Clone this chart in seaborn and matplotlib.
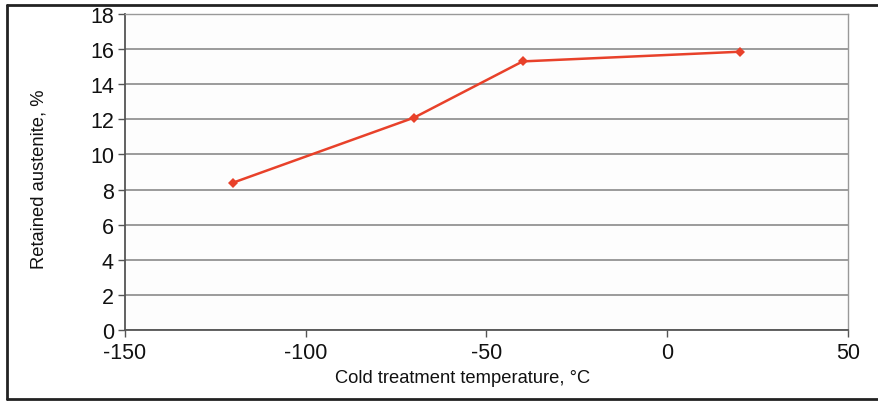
import matplotlib
matplotlib.use("Agg")
import matplotlib.pyplot as plt
from matplotlib.lines import Line2D
import seaborn as sns
import pandas as pd

temperature = [-120, -70, -40, 20]
retained_austenite = [8.4, 12.1, 15.3, 15.85]
x_ticks = [-150, -100, -50, 0, 50]
y_ticks = [0, 2, 4, 6, 8, 10, 12, 14, 16, 18]

sns.set_theme(style="white")
plt.rcParams['font.family'] = ['Liberation Sans', 'DejaVu Sans']

df = pd.DataFrame({"t": temperature, "ra": retained_austenite})

fig = plt.figure(figsize=(8.79, 4.02), dpi=100)
fig.patch.set_facecolor("white")
ax = fig.add_axes([125/879, 1-331/402, (848-125)/879, (331-15)/402])
ax.set_facecolor("#fdfdfd")

sns.lineplot(data=df, x="t", y="ra", ax=ax, color="#e8412a", linewidth=1.8,
             marker="D", markersize=5, markeredgewidth=0, zorder=3)

fs = 15.5
ax.set_xlim(-150, 50)
ax.set_ylim(0, 18)
ax.set_xticks(x_ticks)
ax.set_yticks(y_ticks)
ax.set_xticklabels([str(v) for v in x_ticks], fontsize=fs)
ax.set_yticklabels([str(v) for v in y_ticks], fontsize=fs)
ax.yaxis.grid(True, color="#8a8a8a", linewidth=1.2)
ax.xaxis.grid(False)
ax.tick_params(axis="both", direction="out", length=5, width=1, color="#555555",
               bottom=True, left=True, labelcolor="#111111")
ax.tick_params(axis="x", pad=4)
ax.tick_params(axis="y", pad=3)
for side in ["left", "bottom"]:
    ax.spines[side].set_color("#555555")
    ax.spines[side].set_linewidth(1.3)
for side in ["top", "right"]:
    ax.spines[side].set_color("#999999")
    ax.spines[side].set_linewidth(1.0)
ax.set_xlabel("Cold treatment temperature, °C", fontsize=13.2, color="#111111")
ax.set_ylabel("Retained austenite, %", fontsize=13.2, color="#111111")
ax.xaxis.set_label_coords(0.4675, -0.123)
ax.yaxis.set_label_coords(-0.107, 0.481)

# outer frame
fig.add_artist(Line2D([7/879, 1.0], [1-6/402, 1-6/402], transform=fig.transFigure, color="#222222", linewidth=2))
fig.add_artist(Line2D([7/879, 7/879], [1-6/402, 1-400/402], transform=fig.transFigure, color="#222222", linewidth=2))
fig.add_artist(Line2D([7/879, 1.0], [1-400/402, 1-400/402], transform=fig.transFigure, color="#222222", linewidth=2))

fig.savefig("out.png", dpi=100)
